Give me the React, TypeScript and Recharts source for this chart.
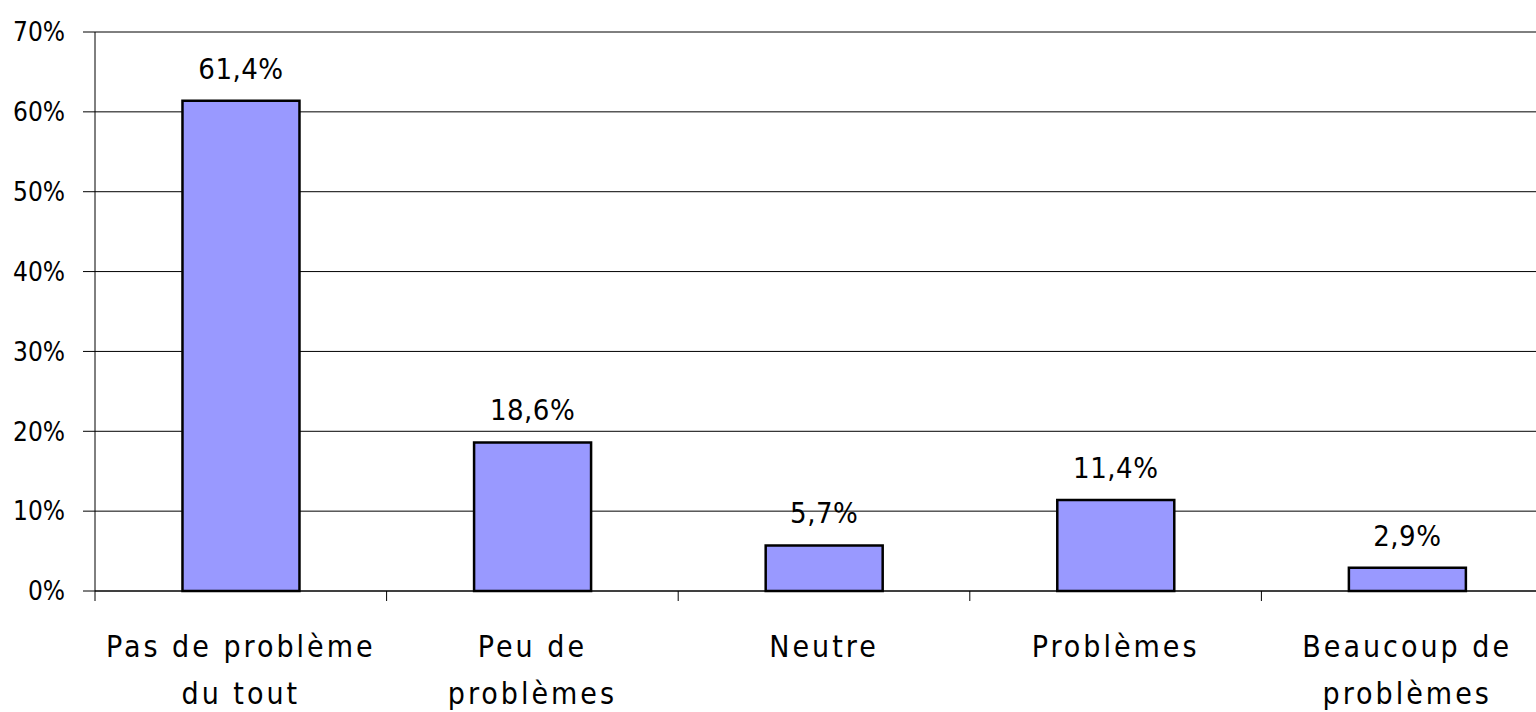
import React from "react";
import { BarChart, Bar, XAxis, YAxis, CartesianGrid, LabelList } from "recharts";

const categories: string[][] = [
  ["Pas de problème", "du tout"],
  ["Peu de", "problèmes"],
  ["Neutre"],
  ["Problèmes"],
  ["Beaucoup de", "problèmes"],
];
const values: number[] = [61.4, 18.6, 5.7, 11.4, 2.9];
const yTicks: number[] = [0, 10, 20, 30, 40, 50, 60, 70];

const data = categories.map((c, i) => ({ name: c.join(" "), idx: i, value: values[i] }));

const CHART_W = 1560;
const CHART_H = 712;
const MARGIN = { top: 32, right: 7, bottom: 0, left: 0 };
const Y_W = 95;
const X_H = 121;
const BW = (CHART_W - MARGIN.left - MARGIN.right - Y_W) / categories.length;
const FONT = "'DejaVu Sans Condensed', 'DejaVu Sans', sans-serif";

const XTick = (props: any) => {
  const { x, y, index } = props;
  const lines = categories[index] || [];
  return (
    <g>
      <line x1={x - BW / 2} y1={y} x2={x - BW / 2} y2={y + 10} stroke="#000" strokeWidth={1} />
      {index === categories.length - 1 && (
        <line x1={x + BW / 2} y1={y} x2={x + BW / 2} y2={y + 10} stroke="#000" strokeWidth={1} />
      )}
      {lines.map((l, i) => (
        <text
          key={i}
          x={x}
          y={y + 66 + i * 47}
          textAnchor="middle"
          fontFamily={FONT}
          fontSize={30}
          letterSpacing={3}
          fill="#000"
        >
          {l}
        </text>
      ))}
    </g>
  );
};

const fmt = (v: number) => v.toFixed(1).replace(".", ",") + "%";

const ValueLabel = (props: any) => {
  const { x, y, width, value } = props;
  return (
    <text
      x={x + width / 2}
      y={y - 22}
      textAnchor="middle"
      fontFamily={FONT}
      fontSize={29}
      letterSpacing={0.5}
      fill="#000"
    >
      {fmt(value)}
    </text>
  );
};

export default function App() {
  return (
    <div style={{ position: "absolute", left: 0, top: 0, width: 1536, height: 712, overflow: "hidden", background: "#fff" }}>
      <BarChart width={CHART_W} height={CHART_H} data={data} margin={MARGIN} barCategoryGap="30%">
        <CartesianGrid horizontal vertical={false} stroke="#000" strokeWidth={1} />
        <XAxis
          dataKey="name"
          height={X_H}
          axisLine={{ stroke: "#000", strokeWidth: 1 }}
          tickLine={false}
          tickSize={0}
          tickMargin={0}
          interval={0}
          tick={<XTick />}
        />
        <YAxis
          width={Y_W}
          domain={[0, 70]}
          ticks={yTicks}
          interval={0}
          tickFormatter={(v: number) => v + "%"}
          axisLine={{ stroke: "#000", strokeWidth: 1 }}
          tickLine={{ stroke: "#000", strokeWidth: 1 }}
          tickSize={12}
          tickMargin={18}
          tick={{ fontFamily: FONT, fontSize: 26, fill: "#000" }}
        />
        <Bar dataKey="value" fill="#9999ff" stroke="#000" strokeWidth={2.5} isAnimationActive={false}>
          <LabelList dataKey="value" content={<ValueLabel />} />
        </Bar>
      </BarChart>
    </div>
  );
}
